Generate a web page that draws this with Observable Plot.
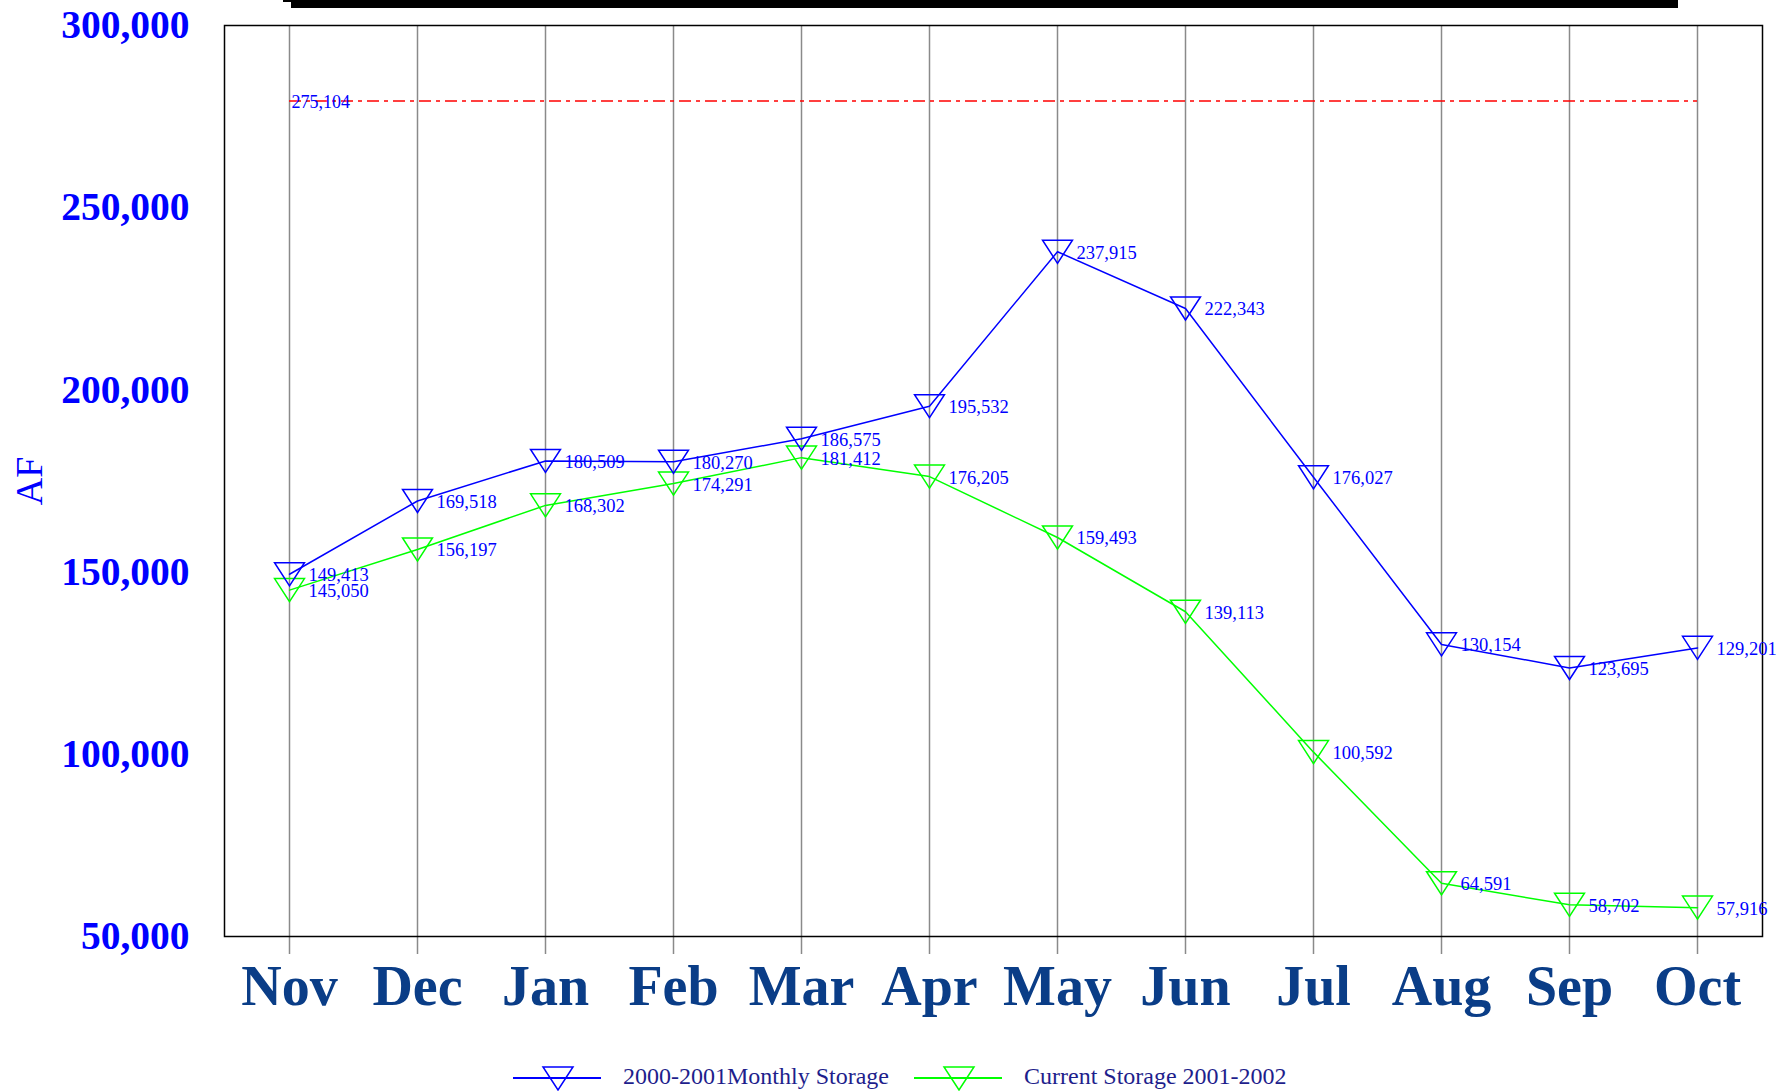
<!DOCTYPE html>
<html>
<head>
<meta charset="utf-8">
<script src="https://cdn.jsdelivr.net/npm/d3@7"></script>
<script src="https://cdn.jsdelivr.net/npm/@observablehq/plot@0.6"></script>
<style>
  html, body { margin: 0; padding: 0; background: #fff; overflow: hidden; }
  #wrap { position: relative; width: 1787px; height: 1091px; }
  #topbar { position: absolute; left: 291px; top: 0; width: 1387px; height: 8px; background: #000; }
  #topnotch { position: absolute; left: 283px; top: 0; width: 8px; height: 2px; background: #000; }
  #legend { position: absolute; left: 513px; top: 1062px; height: 29px; display: flex; align-items: center;
            font-family: 'Liberation Serif', 'Times New Roman', serif; font-size: 24px; color: #1e1e8c; }
  .item { display: flex; align-items: center; }
  .item svg { display: block; }
</style>
</head>
<body>
<div id="wrap">
  <div id="chart"></div>
  <div id="topbar"></div>
  <div id="topnotch"></div>
  <div id="legend"></div>
</div>
<script>
const months = ["Nov","Dec","Jan","Feb","Mar","Apr","May","Jun","Jul","Aug","Sep","Oct"];
const storage2000 = [149413, 169518, 180509, 180270, 186575, 195532, 237915, 222343, 176027, 130154, 123695, 129201];
const storage2001 = [145050, 156197, 168302, 174291, 181412, 176205, 159493, 139113, 100592, 64591, 58702, 57916];
const seriesNames = ["2000-2001Monthly Storage", "Current Storage 2001-2002"];
const seriesColors = ["#0000ff", "#00ff00"];
const yTicks = [50000, 100000, 150000, 200000, 250000, 300000];
const refLineValue = 279300;      // position of the red dash-dot line as drawn
const refLineLabel = "275,104";   // its printed label

const fmt = d3.format(",");
const serif = "'Liberation Serif', 'Times New Roman', serif";

const blueData = months.map((m, i) => ({month: m, value: storage2000[i]}));
const greenData = months.map((m, i) => ({month: m, value: storage2001[i]}));

// inverted triangle symbol, bbox centred on the data point
const downTri = {
  draw(ctx, size) {
    const r = Math.sqrt(size / Math.PI);
    const hw = r * 1.36, hh = r * 1.05;
    ctx.moveTo(-hw, -hh);
    ctx.lineTo(hw, -hh);
    ctx.lineTo(0, hh);
    ctx.closePath();
  }
};

const chart = Plot.plot({
  width: 1787,
  height: 1062,
  marginLeft: 224,
  marginRight: 25,
  marginTop: 25,
  marginBottom: 126,
  style: {background: "#fff", fontFamily: serif, overflow: "visible"},
  x: {type: "point", domain: months, padding: 0.5},
  y: {domain: [50000, 300000]},
  marks: [
    Plot.ruleX(months, {x: d => d, y1: 50000, y2: 300000, stroke: "#8a8a8a", strokeWidth: 1.5}),
    Plot.axisX({tickSize: 18, tickPadding: 11, stroke: "#8a8a8a", strokeWidth: 1.5,
                fontSize: 56, fontWeight: "bold", fill: "#0a3d87", fontFamily: serif, label: null}),
    Plot.axisY({ticks: yTicks, tickFormat: fmt, tickSize: 0, tickPadding: 35,
                fontSize: 39.5, fontWeight: "bold", fill: "#0000ff", fontFamily: serif, label: null}),
    Plot.text(["AF"], {frameAnchor: "left", textAnchor: "middle", dx: -195, rotate: -90,
                fontSize: 38, fill: "#0000ff", fontFamily: serif}),
    Plot.frame({stroke: "#000", strokeWidth: 1.5}),
    Plot.ruleY([refLineValue], {x1: () => months[0], x2: () => months[months.length - 1], y: d => d,
                stroke: "#ff0000", strokeWidth: 1.5, strokeDasharray: "12,5,4,5"}),
    Plot.text([refLineValue], {x: () => months[0], y: d => d, text: () => refLineLabel, dx: 2, dy: 1,
                textAnchor: "start", fontSize: 18, fill: "#0000ff", fontFamily: serif}),
    Plot.line(greenData, {x: "month", y: "value", stroke: seriesColors[1], strokeWidth: 1.5}),
    Plot.line(blueData, {x: "month", y: "value", stroke: seriesColors[0], strokeWidth: 1.5}),
    Plot.dot(greenData, {x: "month", y: "value", symbol: downTri, r: 11, stroke: seriesColors[1], fill: "none", strokeWidth: 1.5}),
    Plot.dot(blueData, {x: "month", y: "value", symbol: downTri, r: 11, stroke: seriesColors[0], fill: "none", strokeWidth: 1.5}),
    Plot.text(greenData, {x: "month", y: "value", text: d => fmt(d.value), dx: 19, dy: 1,
                textAnchor: "start", fontSize: 18.5, fill: "#0000ff", fontFamily: serif}),
    Plot.text(blueData, {x: "month", y: "value", text: d => fmt(d.value), dx: 19, dy: 1,
                textAnchor: "start", fontSize: 18.5, fill: "#0000ff", fontFamily: serif})
  ]
});
document.getElementById("chart").appendChild(chart);

// legend
const legend = document.getElementById("legend");
seriesNames.forEach((name, i) => {
  const item = document.createElement("div");
  item.className = "item";
  item.style.marginRight = i === 0 ? "25px" : "0";
  const c = seriesColors[i];
  item.innerHTML = `<svg width="88" height="29" style="margin-right:22px">
      <line x1="0" x2="88" y1="16" y2="16" stroke="${c}" stroke-width="2"/>
      <path d="M30,5 L60,5 L45,28 Z" fill="none" stroke="${c}" stroke-width="1.5"/>
    </svg><span>${name}</span>`;
  legend.appendChild(item);
});
</script>
</body>
</html>
